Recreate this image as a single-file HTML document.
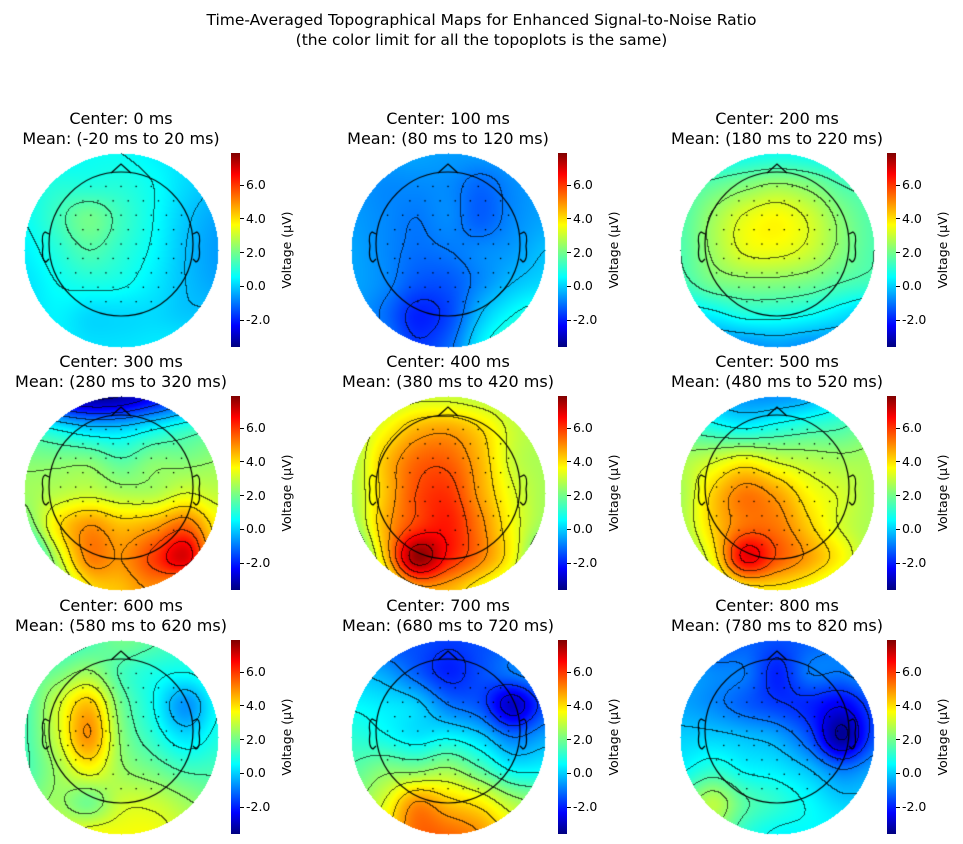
<!DOCTYPE html>
<html><head><meta charset="utf-8">
<style>
body{margin:0;background:#fff;font-family:"DejaVu Sans","Liberation Sans",sans-serif;}
#root{position:relative;width:963px;height:844px;overflow:hidden;}
.t{position:absolute;text-align:center;color:#000;white-space:nowrap;}
canvas{position:absolute;}
</style></head><body>
<div id="root">
<div class="t" style="left:0;width:963px;top:10px;font-size:15.5px;line-height:20px;">Time-Averaged Topographical Maps for Enhanced Signal-to-Noise Ratio<br>(the color limit for all the topoplots is the same)</div>
</div>
<script>
const centers=[0,100,200,300,400,500,600,700,800];
const vmin=-3.6, vmax=7.9;
const cbTicks=[-2,0,2,4,6];
const grid0=[[0.6,0.6,0.8,0.8,0.6,0.4,0.4],[0.8,1.1,1.1,1.1,0.8,0.3,0],[0.8,1.4,2,1.4,0.8,0.1,-0.3],[0.6,1.1,1.6,1.2,0.7,0,-0.4],[0.4,0.8,1,0.9,0.5,0,-0.3],[0.4,0.6,0.3,0.3,0.3,0.1,0.1],[0.6,0.6,0.4,0.4,0.5,0.6,0.6]];
const grid1=[[0,-0.3,-0.3,-0.4,-0.4,-0.3,0],[-0.4,-0.6,-0.6,-0.6,-1,-0.6,-0.3],[-0.4,-0.6,-0.8,-0.6,-1.1,-0.6,-0.3],[-0.3,-0.6,-0.9,-0.8,-0.6,-0.4,0],[-0.3,-0.6,-1.2,-1.2,-0.6,0,0.3],[-0.3,-0.9,-1.8,-1.4,0,0.8,1.2],[0,-0.6,-1.5,-1,0.6,1.5,1.8]];
const grid2=[[0.6,0.6,0.8,0.9,0.8,0.6,0.6],[1.4,1.8,2.2,2.5,2.2,1.6,1.4],[1.6,2.5,3.3,3.6,3.1,2.2,1.6],[1.6,2.5,3.3,3.4,3,2.2,1.6],[1.4,2,2.2,2.2,2,1.6,1.4],[0.4,0.6,1,1,0.8,0.4,0],[-0.2,-0.6,-0.6,-0.4,-0.6,-0.6,-0.2]];
const grid3=[[-1.5,-2.8,-3.4,-3.2,-2.3,-1.3,-0.8],[1.2,0.7,0.2,0.2,0.7,1.2,1.6],[2.2,2.2,2.2,1.7,2.2,2.2,2.4],[2.5,2.8,3,2.7,2.7,3.2,2.9],[1.8,3.8,4.8,4.3,4.6,5.3,3.7],[-0.3,2.8,5,4.8,5.8,6.8,3.7],[-0.8,1.8,3.8,4.3,4.8,3.8,2.7]];
const grid4=[[2.2,2.6,3,3,2.8,2.6,2.2],[2.6,3.5,4.4,4.6,4,3,2.6],[2.6,4.2,5.3,5.4,4.4,3,2.6],[2.6,4.2,5.6,5.9,4.6,3.3,2.6],[2.2,4.4,5.8,6.2,5,3.5,2.4],[0.8,4,7.6,6.2,5,3.5,1.2],[0.8,2.6,4.4,4.4,3.5,2.6,1.2]];
const grid5=[[0.6,-0.2,-0.5,-0.5,-0.2,0.6,1.1],[1.6,1.1,0.8,1.1,1.4,1.6,2.1],[2.6,3.1,3.6,3.1,2.8,2.6,2.6],[2.6,4.1,5.1,4.6,3.6,3.1,2.6],[2.6,4.1,5.2,5.1,4.1,3.1,2.6],[2.1,3.6,6.6,5.5,4.6,3.6,2.4],[1.6,2.6,3.6,3.8,3.4,2.6,1.6]];
const grid6=[[0.5,1,1.5,2,1.7,1.3,1],[1.5,2,2.5,1.5,1,0.8,1.2],[1.5,3,4.3,2,0.8,-0.5,0.8],[1.5,3,4.8,2.3,1.2,0.4,1],[1.5,2.5,3.5,2.5,2,1.5,1.5],[2,2.5,2,3,3,2.5,2],[2.5,3,3.5,3.5,3.5,3,2.5]];
const grid7=[[-0.8,-1.3,-1.3,-1.5,-1.3,-1.1,-0.8],[0,-0.3,-1.1,-1.8,-1.3,-0.8,-0.3],[0.7,0.5,0.2,-0.8,-1.3,-2.8,-1.3],[1.2,0.9,0.5,0.7,0.2,-0.8,-0.3],[1.7,2.2,2.2,2.5,1.7,0.7,0.7],[2.2,3.2,4.8,4.2,3.7,2.7,2.2],[2.7,3.7,5.3,5.3,4.8,3.7,2.7]];
const grid8=[[-0.8,-1.3,-1.1,-1.3,-1.1,-0.8,-0.8],[-0.3,-0.6,-0.8,-1.8,-0.8,-0.8,-0.3],[-0.3,-0.6,-1.1,-1.5,-1.8,-2.3,-1.3],[0.2,0.2,0,-0.3,-1.3,-3.3,-1.3],[0.7,1.2,0.7,0.5,0,-0.8,-0.3],[1.8,2.8,1.7,1.2,0.7,0.2,0.2],[1.7,2.2,1.2,0.7,0.7,0.7,0.7]];
const grids=[grid0,grid1,grid2,grid3,grid4,grid5,grid6,grid7,grid8];

function jet(t){t=Math.max(0,Math.min(1,t));
 const f=(x)=>Math.max(0,Math.min(1,1.5-Math.abs(4*t-x)));
 return [f(3)*255,f(2)*255,f(1)*255];}
function cr(p0,p1,p2,p3,t){return p1+0.5*t*(p2-p0+t*(2*p0-5*p1+4*p2-p3+t*(3*(p1-p2)+p3-p0)));}
function sample(g,x,y){const n=g.length;
 const gx=x*(n-1),gy=y*(n-1);const ix=Math.floor(gx),iy=Math.floor(gy);
 const tx=gx-ix,ty=gy-iy;const c=(i)=>Math.max(0,Math.min(n-1,i));
 const rows=[];for(let j=-1;j<=2;j++){const r=g[c(iy+j)];rows.push(cr(r[c(ix-1)],r[c(ix)],r[c(ix+1)],r[c(ix+2)],tx));}
 return cr(rows[0],rows[1],rows[2],rows[3],ty);}
const root=document.getElementById('root');
const colX=[121,448,777], rowY=[250,493,737], R=97;
const sens=[];
for(let j=-4;j<=4;j++)for(let i=-4;i<=4;i++){const x=i*0.21+(j%2?0.1:0),y=j*0.2;if(x*x+y*y<0.9)sens.push([x,y]);}
grids.forEach((g,k)=>{
 const cx=colX[k%3], cy=rowY[Math.floor(k/3)];
 const S=2*R+4;
 const cv=document.createElement('canvas');cv.width=S;cv.height=S;
 cv.style.left=(cx-S/2)+'px';cv.style.top=(cy-S/2)+'px';
 
 
 root.appendChild(cv);
 const ctx=cv.getContext('2d');const im=ctx.createImageData(S,S);
 const vals=new Float32Array(S*S);
 for(let y=0;y<S;y++)for(let x=0;x<S;x++){vals[y*S+x]=sample(g,Math.min(1,Math.max(0,(x-2)/(2*R))),Math.min(1,Math.max(0,(y-2)/(2*R))));}
 const step=0.8;
 for(let y=0;y<S;y++)for(let x=0;x<S;x++){
  const dx=x-S/2,dy=y-S/2;const i=(y*S+x)*4;
  if(dx*dx+dy*dy>R*R){im.data[i+3]=0;continue;}
  const v=vals[y*S+x];let c=jet((v-vmin)/(vmax-vmin));
  const l=Math.floor(v/step);
  const lr=x<S-1?Math.floor(vals[y*S+x+1]/step):l, ld=y<S-1?Math.floor(vals[(y+1)*S+x]/step):l;
  if(lr!==l||ld!==l){c=[c[0]*0.35,c[1]*0.35,c[2]*0.35];}
  im.data[i]=c[0];im.data[i+1]=c[1];im.data[i+2]=c[2];im.data[i+3]=255;}
 ctx.putImageData(im,0,0);
 const hs=S/2, hr=72, hy=hs-6;
 ctx.strokeStyle='#000';ctx.lineWidth=1.2;
 ctx.beginPath();ctx.arc(hs,hy,hr,0,2*Math.PI);ctx.stroke();
 ctx.beginPath();ctx.moveTo(hs-10,hy-hr+1);ctx.lineTo(hs,hy-hr-8);ctx.lineTo(hs+10,hy-hr+1);ctx.stroke();
 [-1,1].forEach(s=>{ctx.beginPath();const ex=hs+s*hr;
  ctx.moveTo(ex,hy-10);ctx.lineTo(ex+s*4,hy-12);ctx.quadraticCurveTo(ex+s*8,hy-10,ex+s*6,hy+2);
  ctx.quadraticCurveTo(ex+s*8,hy+16,ex+s*3,hy+18);ctx.lineTo(ex,hy+15);ctx.stroke();});
 ctx.fillStyle='#000';
 sens.forEach(p=>{ctx.fillRect(hs+p[0]*hr-0.6,hy+p[1]*hr-0.6,1.3,1.3);});
 const t=document.createElement('div');t.className='t';
 
 
 t.style.left=(cx-140)+'px';t.style.width='280px';t.style.top=(cy-141)+'px';
 t.style.fontSize='16px';t.style.lineHeight='20px';
 t.innerHTML='Center: '+centers[k]+' ms<br>Mean: ('+(centers[k]-20)+' ms to '+(centers[k]+20)+' ms)';
 root.appendChild(t);
 const cb=document.createElement('div');
 
 
 cb.style.cssText='position:absolute;left:'+(cx+110)+'px;top:'+(cy-R)+'px;width:9px;height:'+(2*R)+'px;background:linear-gradient(to top,#00007f,#0000ff 11%,#00ffff 36%,#7fff7f 50%,#ffff00 63%,#ff0000 89%,#7f0000);';
 root.appendChild(cb);
 cbTicks.forEach(v=>{const yy=cy+R-(v-vmin)/(vmax-vmin)*2*R;
  const tk=document.createElement('div');
  
  
  tk.style.cssText='position:absolute;left:'+(cx+119)+'px;top:'+(yy-0.5)+'px;width:4px;height:1px;background:#000;';
  root.appendChild(tk);
  const lb=document.createElement('div');lb.className='t';
  
  
  lb.style.cssText+='left:'+(cx+125)+'px;top:'+(yy-8)+'px;font-size:12.5px;line-height:16px;';
  lb.textContent=v.toFixed(1);root.appendChild(lb);});
 const yl=document.createElement('div');yl.className='t';
 
 
 yl.style.cssText+='left:'+(cx+166-60)+'px;width:120px;top:'+(cy-8)+'px;font-size:12.5px;line-height:16px;transform:rotate(-90deg);';
 yl.textContent='Voltage (µV)';root.appendChild(yl);
});
</script>
</body></html>
